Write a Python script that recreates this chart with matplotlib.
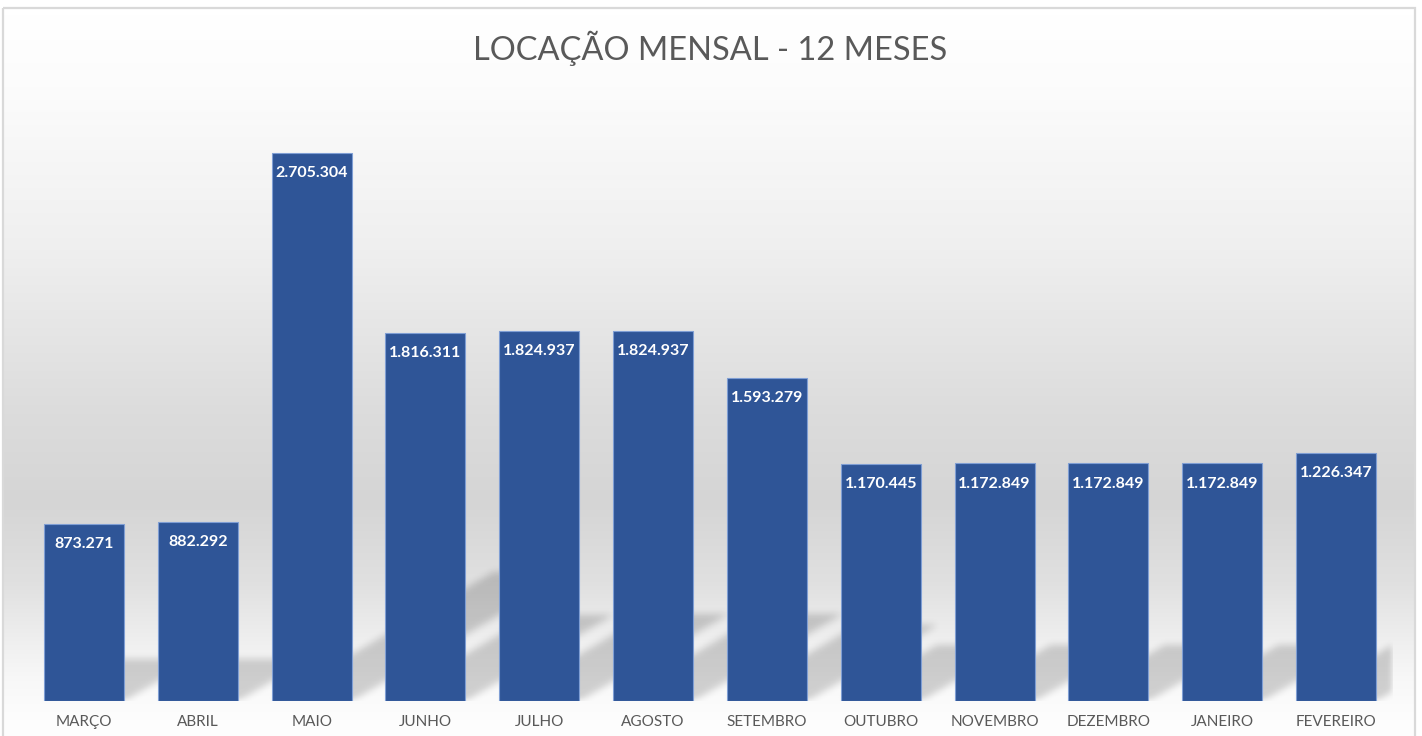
import numpy as np
import matplotlib
matplotlib.use("Agg")
import matplotlib.pyplot as plt
from matplotlib.patches import Rectangle

meses = ["MARÇO", "ABRIL", "MAIO", "JUNHO", "JULHO", "AGOSTO", "SETEMBRO",
         "OUTUBRO", "NOVEMBRO", "DEZEMBRO", "JANEIRO", "FEVEREIRO"]
valores = [873271, 882292, 2705304, 1816311, 1824937, 1824937, 1593279,
           1170445, 1172849, 1172849, 1172849, 1226347]
titulo = "LOCAÇÃO MENSAL - 12 MESES"

W, H = 1422, 736
fig = plt.figure(figsize=(W / 100, H / 100), dpi=100)
fig.patch.set_facecolor("white")

# fundo em degrade (coordenadas em pixels)
bg = fig.add_axes([0, 0, 1, 1], zorder=0)
bg.set_xlim(0, W)
bg.set_ylim(H, 0)
bg.axis("off")
ys = np.arange(H) + 0.5
stops_y = [8, 80, 245, 410, 500, 580, 640, 680, 720, 736]
stops_v = [255, 252, 239, 220, 213, 224, 239, 248, 253, 254]
col = np.interp(ys, stops_y, stops_v) / 255.0
grad = np.repeat(col[:, None, None], 3, axis=2)
bg.imshow(grad, extent=(3, 1415, H, 8), aspect="auto", interpolation="bilinear")
bg.add_patch(Rectangle((3, 8), 1412, 740, fill=False, edgecolor="#d9d9d9", lw=1.6))

# eixo principal
left, right = 27.1, 1392.9
base, top = 701, 93.2
ax = fig.add_axes([left / W, (H - base) / H, (right - left) / W, (base - top) / H], zorder=1)
ax.set_facecolor("none")
ymax = 3.0e6
ax.set_xlim(-0.5, 11.5)
ax.set_ylim(0, ymax)

x = np.arange(len(valores))
bw = 0.703

# sombras em perspectiva (desfocadas)
nx, ny = int(right - left), int(base - top)
gx = -0.5 + (np.arange(nx) + 0.5) / nx * 12
gy = (np.arange(ny) + 0.5) / ny * ymax
GX, GY = np.meshgrid(gx, gy)
mask = np.zeros((ny, nx))
px_per_unit_x = nx / 12
px_per_unit_y = ny / ymax
for xi, v in zip(x, valores):
    hs = 0.235 * v
    dx = 1.72 * hs * px_per_unit_y / px_per_unit_x
    t = GY / hs
    xl = xi - bw / 2 + t * dx
    xr = xi + bw / 2 + t * dx
    inside = (t <= 1) & (GX >= xl) & (GX <= xr)
    mask[inside] = 1.0


def box1d(a, r, axis):
    a = np.moveaxis(a, axis, 0)
    p = np.pad(a, ((r + 1, r),) + ((0, 0),) * (a.ndim - 1))
    c = np.cumsum(p, axis=0)
    out = (c[2 * r + 1:] - c[:-2 * r - 1]) / (2 * r + 1)
    return np.moveaxis(out, 0, axis)


for _ in range(3):
    mask = box1d(mask, 3, 0)
    mask = box1d(mask, 3, 1)

shadow = np.zeros((ny, nx, 4))
shadow[..., 3] = mask * 0.17
ax.imshow(shadow, extent=(-0.5, 11.5, 0, ymax), origin="lower", aspect="auto",
          interpolation="bilinear", zorder=1)

ax.bar(x, valores, width=bw, color="#2F5597", edgecolor="#7f9ed4", linewidth=0.8, zorder=2)

for xi, v in zip(x, valores):
    rotulo = f"{v:,}".replace(",", ".")
    ax.annotate(rotulo, (xi, v), xytext=(0, -14.5), textcoords="offset points",
                ha="center", va="center", color="white", fontsize=11.5,
                fontweight="bold", family=["Lato", "DejaVu Sans"], zorder=3)

ax.set_xticks(x)
ax.set_xticklabels(meses, family=["Lato", "DejaVu Sans"], fontsize=11, color="#595959")
ax.tick_params(axis="x", length=0, pad=10)
ax.set_yticks([])
for s in ax.spines.values():
    s.set_visible(False)

fig.text(710 / W, 1 - 48 / H, titulo, ha="center", va="center", fontsize=23.5,
         color="#595959", family=["Lato", "DejaVu Sans"], fontweight="normal")

fig.savefig("out.png", dpi=100)
